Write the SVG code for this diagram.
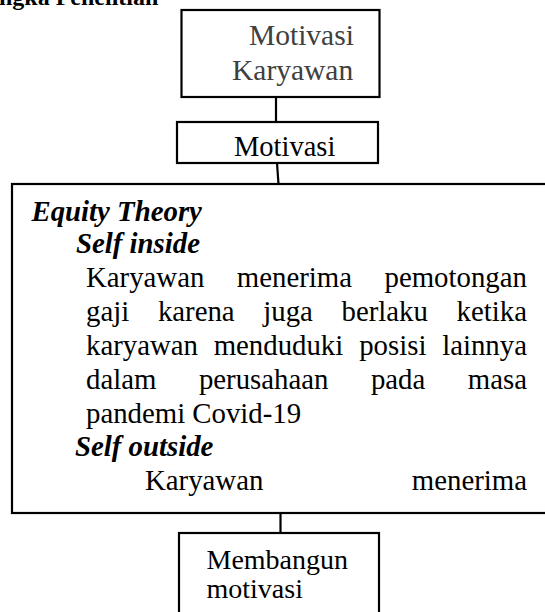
<svg xmlns="http://www.w3.org/2000/svg" width="545" height="612" viewBox="0 0 545 612">
  <style>
    .box { fill: #ffffff; stroke: #000000; stroke-width: 2.2; }
    .link { stroke: #000000; stroke-width: 2.2; fill: none; }
    .t { font-family: "Liberation Serif", "Times New Roman", serif; font-size: 28.8px; fill: #000000; }
    .gray { fill: #404040; font-size: 29.5px; }
    .mid { font-size: 28.5px; }
    .low { font-size: 28px; }
    .bi { font-weight: bold; font-style: italic; }
    .head { font-family: "Liberation Serif", "Times New Roman", serif; font-size: 24px; font-weight: bold; fill: #000000; }
  </style>
  <defs>
    <clipPath id="clipMotivasi">
      <rect x="177" y="122" width="201" height="35"/>
    </clipPath>
  </defs>
  <rect width="545" height="612" fill="#ffffff"/>

  <!-- section heading, cut at the top edge -->
  <text class="head" x="-1" y="5">ngka Penelitian</text>

  <!-- connectors -->
  <g id="connectors">
    <line class="link" x1="276" y1="97" x2="276" y2="122"/>
    <line class="link" x1="277" y1="163" x2="278.5" y2="184"/>
    <line class="link" x1="280.5" y1="513" x2="280.5" y2="533"/>
  </g>

  <g id="node-motivasi-karyawan">
    <rect class="box" x="181.5" y="10" width="198" height="87"/>
    <text class="t gray" x="249" y="45">Motivasi</text>
    <text class="t gray" x="232" y="80">Karyawan</text>
  </g>

  <g id="node-motivasi">
    <rect class="box" x="177" y="122" width="201" height="41"/>
    <text class="t mid" x="234" y="156" clip-path="url(#clipMotivasi)">Motivasi</text>
  </g>

  <g id="node-equity-theory">
    <rect class="box" x="12" y="184" width="560" height="329"/>
    <text class="t bi" x="31.5" y="221">Equity Theory</text>
    <text class="t bi" x="76" y="253">Self inside</text>
    <text class="t" y="287"><tspan x="86">Karyawan</tspan><tspan x="236.8">menerima</tspan><tspan x="384.5">pemotongan</tspan></text>
    <text class="t" y="321"><tspan x="86">gaji</tspan><tspan x="157.9">karena</tspan><tspan x="263.3">juga</tspan><tspan x="341.5">berlaku</tspan><tspan x="456.6">ketika</tspan></text>
    <text class="t" y="355"><tspan x="86">karyawan</tspan><tspan x="213.7">menduduki</tspan><tspan x="359.2">posisi</tspan><tspan x="442.2">lainnya</tspan></text>
    <text class="t" y="389"><tspan x="86">dalam</tspan><tspan x="198.9">perusahaan</tspan><tspan x="370.9">pada</tspan><tspan x="467.8">masa</tspan></text>
    <text class="t" x="86" y="423">pandemi Covid-19</text>
    <text class="t bi" x="75" y="456">Self outside</text>
    <text class="t" y="490"><tspan x="145">Karyawan</tspan><tspan x="411.8">menerima</tspan></text>
  </g>

  <g id="node-membangun-motivasi">
    <rect class="box" x="179" y="533" width="200" height="90"/>
    <text class="t low" x="206.5" y="569">Membangun</text>
    <text class="t low" x="206.5" y="598">motivasi</text>
  </g>
</svg>
